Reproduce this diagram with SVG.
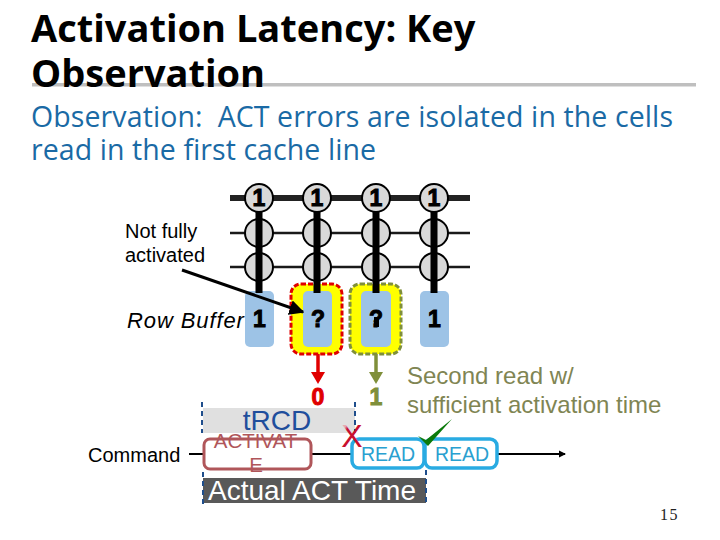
<svg xmlns="http://www.w3.org/2000/svg" width="720" height="540" viewBox="0 0 720 540">
<defs>
<marker id="blk" markerWidth="5" markerHeight="5" refX="4.500" refY="2.500" orient="auto" markerUnits="strokeWidth"><path d="M0,0L5,2.500L0,5Z" fill="#000"/></marker>
<marker id="tl" markerWidth="4" markerHeight="4" refX="3" refY="2" orient="auto" markerUnits="strokeWidth"><path d="M0,0.300L3.500,2L0,3.700Z" fill="#000"/></marker>
<linearGradient id="xg" x1="0" y1="0" x2="0.700" y2="0.700"><stop offset="0.300" stop-color="#e8a8b0"/><stop offset="0.420" stop-color="#c8102e"/></linearGradient>
</defs>
<style>
text{font-family:"Liberation Sans",Arial,sans-serif}
.title{font-family:"Open Sans","Noto Sans",sans-serif;font-weight:700;font-size:38px;fill:#000}
.sub{font-family:"Open Sans","Noto Sans",sans-serif;font-size:28.5px;fill:#1a6aa5;white-space:pre}
.wl{stroke:#1a1a1a;stroke-width:2.5;fill:none}
.bl{stroke:#000;stroke-width:7;fill:none}
.cell{fill:#d9d9d9;stroke:#000;stroke-width:2}
.rb{fill:#9dc3e6}
.dg{font-weight:700;font-size:23px;fill:#000;stroke:#000;stroke-width:1;text-anchor:middle}
.lbl{font-size:20px;fill:#000}
.bracket{stroke:#1f4e8c;stroke-width:2;stroke-dasharray:5 4;fill:none}
.read{fill:#fff;stroke:#29abe2;stroke-width:3.500}
.readt{font-size:19.500px;fill:#29a0d0;text-anchor:middle}
.olive{font-size:24px;fill:#7f8553}
.act{font-size:20.500px;fill:#b0565a;text-anchor:middle}
</style>
<rect width="720" height="540" fill="#fff"/>
<rect x="32" y="83" width="664" height="3.500" fill="#bfbfbf"/>
<text class="title" x="31" y="42">Activation Latency: Key</text>
<text class="title" x="31" y="87">Observation</text>
<text class="sub" x="31" y="127" textLength="642" lengthAdjust="spacing">Observation:  ACT errors are isolated in the cells</text>
<text class="sub" x="31" y="160" textLength="345" lengthAdjust="spacing">read in the first cache line</text>
<g id="wires">
<path d="M230 198H470" stroke="#222" stroke-width="6"/>
<path class="wl" d="M230 233H470M230 267H470"/>
</g>
<g id="cells">
<g class="cell"><circle cx="259" cy="198" r="14"/><circle cx="317" cy="198" r="14"/><circle cx="376" cy="198" r="14"/><circle cx="434" cy="198" r="14"/>
<circle cx="259" cy="233" r="14"/><circle cx="317" cy="233" r="14"/><circle cx="376" cy="233" r="14"/><circle cx="434" cy="233" r="14"/>
<circle cx="259" cy="267" r="14"/><circle cx="317" cy="267" r="14"/><circle cx="376" cy="267" r="14"/><circle cx="434" cy="267" r="14"/></g>
<text class="dg" x="259" y="206">1</text><text class="dg" x="317" y="206">1</text><text class="dg" x="376" y="206">1</text><text class="dg" x="434" y="206">1</text>
</g>
<g id="highlights">
<rect x="291" y="284" width="51" height="70" rx="10" fill="#ffff00" stroke="#e00000" stroke-width="3" stroke-dasharray="5 2"/>
<rect x="350" y="284" width="51" height="70" rx="10" fill="#ffff00" stroke="#7f8f3a" stroke-width="3" stroke-dasharray="5 2"/>
</g>
<g id="row-buffer">
<rect class="rb" x="245" y="291" width="29" height="56" rx="5"/>
<rect class="rb" x="303" y="291" width="29" height="56" rx="5"/>
<rect class="rb" x="361" y="291" width="30" height="56" rx="5"/>
<rect class="rb" x="420" y="291" width="29" height="56" rx="5"/>
<path class="bl" d="M259 212V293M317 212V293M376 212V293M434 212V293"/>
<text class="dg" x="259.500" y="327">1</text>
<text class="dg" x="318" y="327">?</text>
<text class="dg" x="376" y="327">?</text>
<rect x="374" y="317" width="5" height="10"/>
<text class="dg" x="434.500" y="327">1</text>
</g>
<g id="labels">
<text class="lbl" x="125" y="238">Not fully</text>
<text class="lbl" x="125" y="262">activated</text>
<text class="lbl" x="127" y="328" font-style="italic" style="font-size:22px;letter-spacing:0.900px">Row Buffer</text>
<text class="lbl" x="88" y="462">Command</text>
</g>
<g id="connectors">
<path d="M182 270L303 312" stroke="#000" stroke-width="3" marker-end="url(#blk)"/>
<path d="M318 354V375" stroke="#e00000" stroke-width="3.500"/><path d="M311 372H325L318 384Z" fill="#e00000"/>
<path d="M376 354V375" stroke="#7f8f3a" stroke-width="3.500"/><path d="M369 372H383L376 384Z" fill="#7f8f3a"/>
<path d="M189 454H204M310 454H352" stroke="#000" stroke-width="2"/>
<path d="M497 454H565" stroke="#000" stroke-width="2" marker-end="url(#tl)"/>
</g>
<text class="dg" x="318" y="405" style="fill:#e00000;stroke:#e00000">0</text>
<text class="dg" x="376" y="405" style="fill:#7f8f3a;stroke:#7f8f3a">1</text>
<text class="olive" x="407" y="384">Second read w/</text>
<text class="olive" x="407" y="413">sufficient activation time</text>
<g id="trcd">
<rect x="203" y="408" width="152" height="25" fill="#e0e0e0"/>
<path class="bracket" d="M202 402V433M355 402V433"/>
<text x="277" y="430" text-anchor="middle" style="font-size:28px;fill:#1f4e9c">tRCD</text>
</g>
<g id="activate">
<rect x="204" y="439" width="107" height="30" rx="6" fill="#fff" stroke="#b0565a" stroke-width="3"/>
<text class="act" x="255.500" y="448">ACTIVAT</text>
<text class="act" x="256" y="472">E</text>
</g>
<g id="read1"><rect class="read" x="352" y="439" width="72" height="29" rx="7"/><text class="readt" x="388" y="461">READ</text></g>
<g id="read2"><rect class="read" x="425" y="439" width="72" height="29" rx="7"/><text class="readt" x="462" y="461">READ</text></g>
<text x="352" y="447" text-anchor="middle" style="font-size:32px;fill:url(#xg)">X</text>
<path d="M418 436L426 440L452 419L428 446Z" fill="#0b7a0b"/>
<g id="actual">
<rect x="203" y="478" width="223" height="25" fill="#595959"/>
<path class="bracket" d="M203 472V504M426 470V504"/>
<text x="208" y="500" style="font-size:28px;fill:#fff">Actual ACT Time</text>
</g>
<text x="669.500" y="520" text-anchor="middle" style="font-family:'Liberation Serif',serif;font-size:16px;letter-spacing:1.500px;fill:#222">15</text>
</svg>
